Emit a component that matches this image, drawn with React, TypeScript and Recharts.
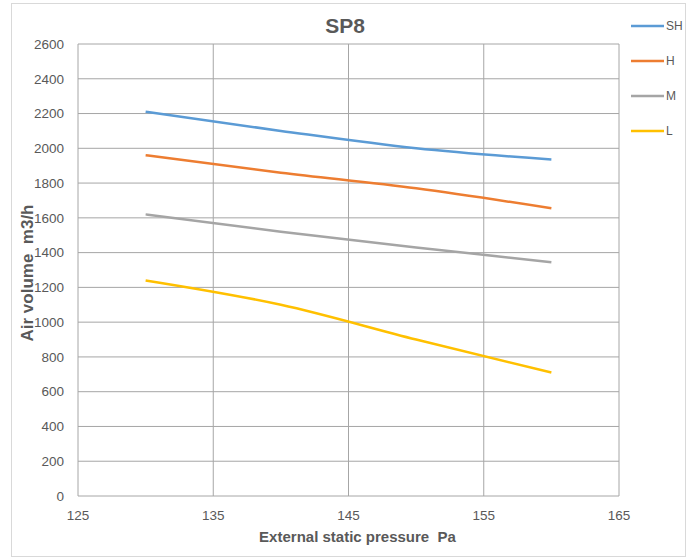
import React from 'react';
import { LineChart, Line, XAxis, YAxis, CartesianGrid } from 'recharts';

const pressure = [130, 140, 150, 160];
const shValues = [2210, 2100, 2000, 1935];
const hValues = [1960, 1860, 1770, 1655];
const mValues = [1620, 1520, 1430, 1345];
const lValues = [1240, 1100, 900, 710];

const xTicks = [125, 135, 145, 155, 165];
const yTicks = [0, 200, 400, 600, 800, 1000, 1200, 1400, 1600, 1800, 2000, 2200, 2400, 2600];

const chartData = pressure.map((p, i) => ({
  pressure: p,
  SH: shValues[i],
  H: hValues[i],
  M: mValues[i],
  L: lValues[i],
}));

const series = [
  { key: 'SH', color: '#5B9BD5' },
  { key: 'H', color: '#ED7D31' },
  { key: 'M', color: '#A5A5A5' },
  { key: 'L', color: '#FFC000' },
];

const fontStack = '"Liberation Sans Narrow", "Liberation Sans", Arial, sans-serif';

const LegendBox = () => (
  <div style={{ position: 'absolute', left: 631, top: 8 }}>
    {series.map((s) => (
      <div key={s.key} style={{ display: 'flex', alignItems: 'center', height: 35 }}>
        <svg width={33} height={4}>
          <line x1={0} y1={2} x2={33} y2={2} stroke={s.color} strokeWidth={2.5} />
        </svg>
        <span style={{ fontSize: 12, color: '#595959', marginLeft: 2 }}>{s.key}</span>
      </div>
    ))}
  </div>
);

const App = () => {
  return (
    <div style={{ position: 'absolute', left: 0, top: 0, width: 687, height: 559, background: '#fff', fontFamily: fontStack }}>
      <div style={{ position: 'absolute', left: 11, top: 3, width: 673, height: 552, border: '1px solid #d9d9d9' }} />
      <div
        style={{
          position: 'absolute',
          left: 345,
          top: 14,
          transform: 'translateX(-50%)',
          fontSize: 21,
          fontWeight: 'bold',
          color: '#595959',
        }}
      >
        SP8
      </div>
      <LineChart
        width={687}
        height={559}
        data={chartData}
        margin={{ top: 44, right: 68, bottom: 0, left: 10 }}
        style={{ position: 'absolute', left: 0, top: 0 }}
      >
        <CartesianGrid stroke="#a6a6a6" strokeWidth={1} />
        <XAxis
          dataKey="pressure"
          type="number"
          domain={[125, 165]}
          ticks={xTicks}
          axisLine={false}
          tickLine={false}
          height={63}
          tick={{ fontSize: 13.5, fill: '#595959', fontFamily: fontStack }}
          tickMargin={8}
          label={{
            value: 'External static pressure\u00A0\u00A0Pa',
            position: 'insideBottom',
            offset: 17,
            dx: 9,
            style: { fontSize: 15, fontWeight: 'bold', fill: '#595959', fontFamily: fontStack },
          }}
        />
        <YAxis
          type="number"
          domain={[0, 2600]}
          ticks={yTicks}
          axisLine={false}
          tickLine={false}
          width={68}
          interval={0}
          tick={{ fontSize: 13.5, fill: '#595959', fontFamily: fontStack }}
          tickMargin={8}
          label={{
            value: 'Air volume\u00A0\u00A0m3/h',
            angle: -90,
            position: 'insideLeft',
            offset: 17,
            dy: 3,
            style: { textAnchor: 'middle', fontSize: 17, fontWeight: 'bold', fill: '#595959', fontFamily: fontStack },
          }}
        />
        {series.map((s) => (
          <Line
            key={s.key}
            type="monotone"
            dataKey={s.key}
            name={s.key}
            stroke={s.color}
            strokeWidth={2.5}
            dot={false}
            activeDot={false}
            isAnimationActive={false}
          />
        ))}
      </LineChart>
      <LegendBox />
    </div>
  );
};

export default App;
